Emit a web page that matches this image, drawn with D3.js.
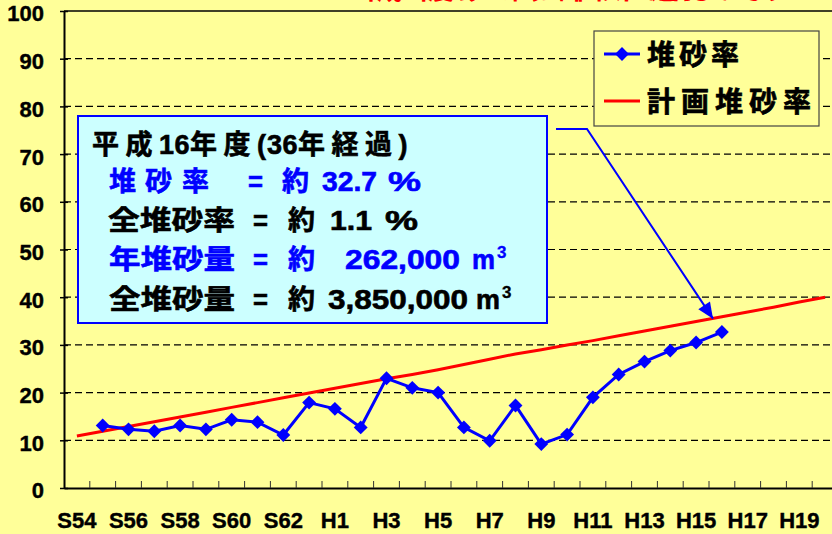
<!DOCTYPE html>
<html>
<head>
<meta charset="utf-8">
<script src="https://cdn.jsdelivr.net/npm/d3@7"></script>
<style>
  body { margin: 0; background: #ffff99; }
  svg { display: block; }
  text { font-family: 'Liberation Sans', 'Noto Sans CJK JP', Arial, sans-serif; font-weight: bold; }
</style>
</head>
<body>
<div id="chart"></div>
<script>

// fiscal years on the x axis (Showa 54 .. Heisei 20)
const years = ["S54","S55","S56","S57","S58","S59","S60","S61","S62","S63",
  "H1","H2","H3","H4","H5","H6","H7","H8","H9","H10",
  "H11","H12","H13","H14","H15","H16","H17","H18","H19","H20"];
const yearLabels = ["S54","S56","S58","S60","S62","H1","H3","H5","H7","H9",
  "H11","H13","H15","H17","H19"];
const yTicks = [0, 10, 20, 30, 40, 50, 60, 70, 80, 90, 100];

// 堆砂率 (measured)
const actualYears = ["S55","S56","S57","S58","S59","S60","S61","S62","S63",
  "H1","H2","H3","H4","H5","H6","H7","H8","H9","H10",
  "H11","H12","H13","H14","H15","H16"];
const actualRate = [13.1, 12.3, 11.9, 13.1, 12.3, 14.3, 13.8, 11.1, 17.9,
  16.6, 12.7, 23.0, 21.0, 20.0, 12.7, 9.9, 17.3, 9.2, 11.2,
  19.0, 23.8, 26.5, 28.8, 30.5, 32.7];

// 計画堆砂率 (planned)
const plannedRate = [10.9, 11.9, 12.9, 13.9, 14.9, 15.9, 16.9, 17.9, 18.9, 19.9,
  20.9, 21.9, 22.9, 23.8, 24.8, 25.9, 27.0, 28.1, 29.0, 30.0,
  30.9, 31.9, 32.9, 33.9, 34.9, 35.9, 36.9, 37.9, 39.0, 40.0];

const W = 832, H = 534;
const plotLeft = 64, plotTop = 11, plotBottom = 488, plotRight = 838;

const svg = d3.select("#chart").append("svg")
  .attr("width", W)
  .attr("height", H);

svg.append("rect").attr("width", W).attr("height", H).attr("fill", "#ffff99");

const x = d3.scaleBand().domain(years).range([plotLeft, plotRight]);
const y = d3.scaleLinear().domain([0, 100]).range([plotBottom, plotTop]);

// title, mostly above the visible area
svg.append("text")
  .attr("x", 358).attr("y", -1)
  .attr("fill", "#ff0000")
  .attr("font-size", 26)
  .attr("textLength", 430)
  .attr("lengthAdjust", "spacing")
  .text("平成16年度のダム堆砂は計画以下で進行しています");

// gridlines
svg.append("g").selectAll("line")
  .data(yTicks.filter(d => d > 0 && d < 100))
  .enter().append("line")
  .attr("x1", plotLeft).attr("x2", W)
  .attr("y1", d => y(d)).attr("y2", d => y(d))
  .attr("stroke", "#000")
  .attr("stroke-width", 1.2)
  .attr("stroke-dasharray", "7,4");

svg.append("line").attr("x1", plotLeft).attr("x2", W)
  .attr("y1", y(100)).attr("y2", y(100))
  .attr("stroke", "#000").attr("stroke-width", 1.5);

const yAxis = d3.axisLeft(y).tickValues(yTicks).tickSize(0).tickPadding(20);
const gy = svg.append("g").attr("transform", "translate(" + plotLeft + ",0)").call(yAxis);
gy.select(".domain").attr("stroke", "#000").attr("stroke-width", 2);
gy.selectAll("text")
  .attr("font-size", 22)
  .attr("fill", "#000")
  .attr("stroke", "#000").attr("stroke-width", 0.4)
  .attr("dy", "0.45em");
gy.selectAll(".tick").append("line")
  .attr("x1", -4).attr("x2", 4)
  .attr("stroke", "#000").attr("stroke-width", 1.5);

const xAxis = d3.axisBottom(x).tickValues(yearLabels).tickSize(0).tickPadding(24);
const gx = svg.append("g").attr("transform", "translate(0," + plotBottom + ")").call(xAxis);
gx.select(".domain").attr("stroke", "#000").attr("stroke-width", 2);
gx.selectAll("text").attr("font-size", 22).attr("fill", "#000")
  .attr("stroke", "#000").attr("stroke-width", 0.4);

// category boundary ticks, pointing up into the plot
svg.append("g").selectAll("line")
  .data(years.slice(1))
  .enter().append("line")
  .attr("x1", d => x(d)).attr("x2", d => x(d))
  .attr("y1", plotBottom).attr("y2", plotBottom - 7)
  .attr("stroke", "#333").attr("stroke-width", 1);

// planned line
const planLine = d3.line()
  .x((d, i) => x(years[i]) + x.bandwidth() / 2)
  .y(d => y(d));
svg.append("path")
  .datum(plannedRate)
  .attr("d", planLine)
  .attr("fill", "none")
  .attr("stroke", "#ff0000")
  .attr("stroke-width", 3);

// actual line
const actLine = d3.line()
  .x((d, i) => x(actualYears[i]) + x.bandwidth() / 2)
  .y(d => y(d));
svg.append("path")
  .datum(actualRate)
  .attr("d", actLine)
  .attr("fill", "none")
  .attr("stroke", "#0000ff")
  .attr("stroke-width", 3);

const diamond = d3.symbol().type(d3.symbolSquare).size(96);
svg.append("g").selectAll("path")
  .data(actualRate)
  .enter().append("path")
  .attr("d", diamond)
  .attr("fill", "#0000ff")
  .attr("transform", (d, i) => "translate(" + (x(actualYears[i]) + x.bandwidth() / 2) + "," + y(d) + ") rotate(45)");

// legend
const lg = svg.append("g").attr("transform", "translate(594,31)");
lg.append("rect").attr("width", 225).attr("height", 95)
  .attr("fill", "#ffff99").attr("stroke", "#444").attr("stroke-width", 1.2);
lg.append("line").attr("x1", 10).attr("x2", 46).attr("y1", 23).attr("y2", 23)
  .attr("stroke", "#0000ff").attr("stroke-width", 3);
lg.append("path").attr("d", diamond).attr("fill", "#0000ff")
  .attr("transform", "translate(28,23) rotate(45)");
lg.append("line").attr("x1", 10).attr("x2", 46).attr("y1", 70).attr("y2", 70)
  .attr("stroke", "#ff0000").attr("stroke-width", 3);
lg.append("text").attr("x", 53).attr("y", 34).attr("font-size", 28)
  .attr("stroke", "#000").attr("stroke-width", 0.7)
  .attr("textLength", 92).attr("lengthAdjust", "spacing").text("堆砂率");
lg.append("text").attr("x", 53).attr("y", 81).attr("font-size", 28)
  .attr("stroke", "#000").attr("stroke-width", 0.7)
  .attr("textLength", 164).attr("lengthAdjust", "spacing").text("計画堆砂率");

// callout box
svg.append("rect")
  .attr("x", 78).attr("y", 116).attr("width", 469).attr("height", 207)
  .attr("fill", "#ccffff").attr("stroke", "#0000ff").attr("stroke-width", 2);

// heading line of the callout, flowing tspans
const head = svg.append("text")
  .attr("x", 92).attr("y", 154)
  .attr("fill", "#000").attr("stroke", "#000").attr("stroke-width", 0.6)
  .attr("font-size", 27);
[["平成", 6.5], ["16", 0.5], ["年度", 6.5], ["(", 1], ["36", 0.5], ["年経過", 6.5], [")", 0]]
  .forEach(s => head.append("tspan").attr("letter-spacing", s[1]).text(s[0]));

// each part: text, left x, width it spans in the reference
const calloutLines = [
  { color: "#0000ff", y: 191, parts: [
    { t: "堆", x: 109 }, { t: "砂", x: 145 }, { t: "率", x: 182 },
    { t: "=", x: 248, w: 15 }, { t: "約", x: 282 }, { t: "32.7", x: 322, w: 55 },
    { t: "%", x: 388, w: 33 }] },
  { color: "#000", y: 230, parts: [
    { t: "全堆砂率", x: 108, w: 127 }, { t: "=", x: 253, w: 15 }, { t: "約", x: 288 },
    { t: "1.1", x: 330, w: 42 }, { t: "%", x: 385, w: 33 }] },
  { color: "#0000ff", y: 269, parts: [
    { t: "年堆砂量", x: 109, w: 126 }, { t: "=", x: 253, w: 15 }, { t: "約", x: 288 },
    { t: "262,000", x: 345, w: 115 }, { t: "m", x: 472, w: 23 },
    { t: "3", x: 497, sup: true }] },
  { color: "#000", y: 309, parts: [
    { t: "全堆砂量", x: 109, w: 126 }, { t: "=", x: 253, w: 15 }, { t: "約", x: 288 },
    { t: "3,850,000", x: 328, w: 140 }, { t: "m", x: 476, w: 24 },
    { t: "3", x: 502, sup: true }] }
];

calloutLines.forEach(line => {
  line.parts.forEach(p => {
    const t = svg.append("text")
      .attr("x", p.x)
      .attr("y", p.sup ? line.y - 11 : line.y)
      .attr("fill", line.color)
      .attr("stroke", line.color)
      .attr("stroke-width", p.sup ? 0.3 : 0.6)
      .attr("font-size", p.sup ? 17 : 27)
      .text(p.t);
    if (p.w) t.attr("textLength", p.w).attr("lengthAdjust", "spacingAndGlyphs");
  });
});

// arrow from callout to planned line at H16
const tip = [713, y(35.5)];
const bend = [587, 129];
svg.append("path")
  .attr("d", "M556,129 L" + bend[0] + "," + bend[1] + " L" + tip[0] + "," + tip[1])
  .attr("fill", "none").attr("stroke", "#0000ff").attr("stroke-width", 2);
const ang = Math.atan2(tip[1] - bend[1], tip[0] - bend[0]);
const hl = 16, hw = 7;
const bx = tip[0] - hl * Math.cos(ang), by = tip[1] - hl * Math.sin(ang);
svg.append("path")
  .attr("d", "M" + tip[0] + "," + tip[1] +
    " L" + (bx + hw * Math.sin(ang)) + "," + (by - hw * Math.cos(ang)) +
    " L" + (bx - hw * Math.sin(ang)) + "," + (by + hw * Math.cos(ang)) + "Z")
  .attr("fill", "#0000ff");

</script>
</body>
</html>
